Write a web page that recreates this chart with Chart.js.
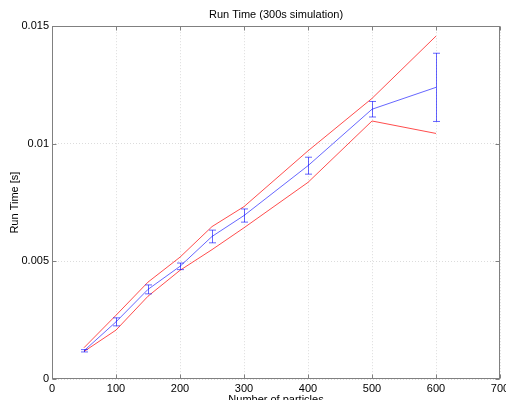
<!DOCTYPE html>
<html>
<head>
<meta charset="utf-8">
<script src="https://cdn.jsdelivr.net/npm/chart.js@4"></script>
<style>
  html, body { margin: 0; padding: 0; overflow: hidden; background: #fff; }
  #plot { display: block; }
</style>
</head>
<body>
<canvas id="plot" width="530" height="420"></canvas>
<script>
// particles vs run time
const particles = [50, 100, 150, 200, 250, 300, 400, 500, 600];
const meanTime  = [0.0012, 0.00243, 0.00381, 0.00479, 0.00606, 0.00695, 0.00907, 0.01147, 0.0124];
const errTime   = [0.00005, 0.00017, 0.00019, 0.00014, 0.00027, 0.00028, 0.00036, 0.00033, 0.00145];
const upperTime = [0.00133, 0.00271, 0.00412, 0.00518, 0.00648, 0.00733, 0.0097, 0.01193, 0.01458];
const lowerTime = [0.00117, 0.00208, 0.00352, 0.00462, 0.0055, 0.00643, 0.00836, 0.01097, 0.01044];
const xTicks = [0, 100, 200, 300, 400, 500, 600, 700];
const yTicks = [0, 0.005, 0.01, 0.015];

const boxColor = '#808080';
const fontFam = '"Liberation Sans", Arial, Helvetica, sans-serif';

function pts(ys) {
    return particles.map((x, i) => ({x: x, y: ys[i]}));
}

// blue error bars, drawn through the chart's own scales
const errorBars = {
    id: 'errorBars',
    afterDatasetsDraw(chart) {
        const ctx = chart.ctx;
        const xs = chart.scales.x, ys = chart.scales.y;
        ctx.save();
        ctx.strokeStyle = 'rgba(0,0,255,0.6)';
        ctx.lineWidth = 1;
        for (let i = 0; i < particles.length; i++) {
            let px = Math.round(xs.getPixelForValue(particles[i])) + 0.5;
            let top = ys.getPixelForValue(meanTime[i] + errTime[i]);
            let bot = ys.getPixelForValue(meanTime[i] - errTime[i]);
            ctx.beginPath();
            ctx.moveTo(px, top); ctx.lineTo(px, bot);
            ctx.moveTo(px - 3.5, top); ctx.lineTo(px + 3.5, top);
            ctx.moveTo(px - 3.5, bot); ctx.lineTo(px + 3.5, bot);
            ctx.stroke();
        }
        ctx.restore();
    }
};

// matlab style box with inward ticks
const boxFrame = {
    id: 'boxFrame',
    afterDraw(chart) {
        const ctx = chart.ctx;
        const a = chart.chartArea;
        const xs = chart.scales.x, ys = chart.scales.y;
        const l = Math.round(a.left) + 0.5, r = Math.round(a.right) - 0.5;
        const t = Math.round(a.top) + 0.5, b = Math.round(a.bottom) - 0.5;
        ctx.save();
        ctx.strokeStyle = boxColor;
        ctx.lineWidth = 1;
        ctx.strokeRect(l, t, r - l, b - t);
        ctx.beginPath();
        xTicks.forEach(v => {
            let px = Math.round(xs.getPixelForValue(v)) + 0.5;
            ctx.moveTo(px, b); ctx.lineTo(px, b - 4);
            ctx.moveTo(px, t); ctx.lineTo(px, t + 4);
        });
        yTicks.forEach(v => {
            let py = Math.round(ys.getPixelForValue(v)) + 0.5;
            ctx.moveTo(l, py); ctx.lineTo(l + 4, py);
            ctx.moveTo(r, py); ctx.lineTo(r - 4, py);
        });
        ctx.stroke();
        ctx.restore();
    }
};

window.onload = function() {
    const ctx = document.getElementById('plot').getContext('2d');

    const lineStyle = {
        pointRadius: 0,
        borderWidth: 1,
        fill: false,
        tension: 0
    };

    new Chart(ctx, {
        type: 'line',
        data: {
            datasets: [
                Object.assign({label: 'upper', data: pts(upperTime), borderColor: 'rgba(255,0,0,0.7)'}, lineStyle),
                Object.assign({label: 'lower', data: pts(lowerTime), borderColor: 'rgba(255,0,0,0.7)'}, lineStyle),
                Object.assign({label: 'mean', data: pts(meanTime), borderColor: 'rgba(0,0,255,0.6)'}, lineStyle)
            ]
        },
        options: {
            responsive: false,
            animation: false,
            devicePixelRatio: 1,
            layout: { padding: { left: 0, right: 30, top: 0, bottom: 0 } },
            plugins: {
                legend: { display: false },
                tooltip: { enabled: false },
                title: {
                    display: true,
                    fullSize: false,
                    text: 'Run Time (300s simulation)',
                    color: '#000',
                    font: { family: fontFam, size: 11, weight: 'normal' },
                    padding: { top: 8, bottom: 5 }
                }
            },
            scales: {
                x: {
                    type: 'linear',
                    min: 0,
                    max: 700,
                    afterFit(scale) { scale.height = 41; },
                    afterBuildTicks(scale) { scale.ticks = xTicks.map(v => ({value: v})); },
                    ticks: {
                        color: '#000',
                        padding: 3,
                        maxRotation: 0,
                        font: { family: fontFam, size: 11 },
                        callback: v => String(v)
                    },
                    grid: { color: '#dcdcdc', drawTicks: false },
                    border: { display: false, dash: [1, 2] },
                    title: {
                        display: true,
                        text: 'Number of particles',
                        color: '#000',
                        font: { family: fontFam, size: 11 },
                        padding: { top: 0, bottom: 13 }
                    }
                },
                y: {
                    type: 'linear',
                    min: 0,
                    max: 0.015,
                    afterFit(scale) { scale.width = 52; },
                    afterBuildTicks(scale) { scale.ticks = yTicks.map(v => ({value: v})); },
                    ticks: {
                        color: '#000',
                        padding: 3,
                        font: { family: fontFam, size: 11 },
                        callback: v => String(+v.toFixed(3))
                    },
                    grid: { color: '#dcdcdc', drawTicks: false },
                    border: { display: false, dash: [1, 2] },
                    title: {
                        display: true,
                        text: 'Run Time [s]',
                        color: '#000',
                        font: { family: fontFam, size: 11 },
                        padding: { top: 8, bottom: 0 }
                    }
                }
            }
        },
        plugins: [errorBars, boxFrame]
    });
};
</script>
</body>
</html>
